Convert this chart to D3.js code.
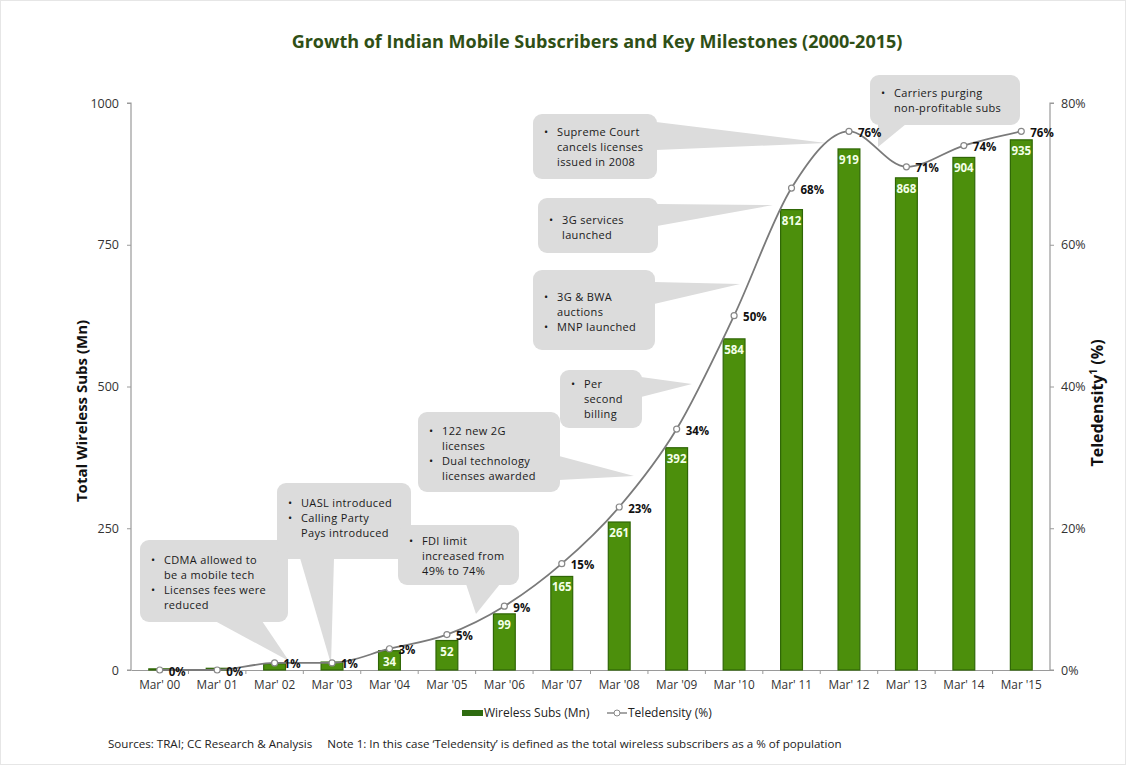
<!DOCTYPE html>
<html>
<head>
<meta charset="utf-8">
<script src="https://cdn.jsdelivr.net/npm/d3@7"></script>
<style>
  html, body { margin: 0; padding: 0; background: #fff; }
  svg { display: block; font-family: "Open Sans", "DejaVu Sans", sans-serif; }
</style>
</head>
<body>
<svg id="chart" width="1126" height="765"></svg>
<script>
// ---- data -------------------------------------------------------------
const years = ["Mar' 00", "Mar' 01", "Mar' 02", "Mar '03", "Mar '04", "Mar '05", "Mar '06", "Mar '07",
               "Mar '08", "Mar '09", "Mar '10", "Mar' 11", "Mar' 12", "Mar' 13", "Mar' 14", "Mar '15"];
const wirelessSubs = [2, 3, 11, 14, 34, 52, 99, 165, 261, 392, 584, 812, 919, 868, 904, 935];
const teledensity  = [0, 0, 1, 1, 3, 5, 9, 15, 23, 34, 50, 68, 76, 71, 74, 76];
const subsTicks = [0, 250, 500, 750, 1000];
const densityTicks = [0, 20, 40, 60, 80];
const minBarLabel = 30;   // bars below this are too short to hold a label

const milestones = [
  ["CDMA allowed to|be a mobile tech", "Licenses fees were|reduced"],
  ["UASL introduced", "Calling Party|Pays introduced"],
  ["FDI limit|increased from|49% to 74%"],
  ["122 new 2G|licenses", "Dual technology|licenses awarded"],
  ["Per|second|billing"],
  ["3G & BWA|auctions", "MNP launched"],
  ["3G services|launched"],
  ["Supreme Court|cancels licenses|issued in 2008"],
  ["Carriers purging|non-profitable subs"]
];

// ---- callout layout (box, first text line, pointer triangle) -------------
const calloutLayout = [
  { box: [140, 540, 148, 82], y0: 560, ptr: [[215, 621], [262, 621], [289, 661]] },
  { box: [277, 483, 134, 76], y0: 503, ptr: [[300, 558], [334, 558], [331, 664]] },
  { box: [398, 525, 121, 60], y0: 541, ptr: [[466, 584], [500, 584], [476, 614]] },
  { box: [418, 412, 142, 80], y0: 431, ptr: [[559, 456], [559, 480], [634, 476]] },
  { box: [560, 370, 82, 58],  y0: 384, ptr: [[641, 377], [641, 397], [692, 384]] },
  { box: [533, 270, 122, 80], y0: 297, ptr: [[654, 282], [654, 304], [740, 284]] },
  { box: [538, 198, 120, 55], y0: 220, ptr: [[657, 204], [657, 226], [773, 205]] },
  { box: [533, 114, 124, 65], y0: 132, ptr: [[656, 122], [656, 150], [826, 143]] },
  { box: [870, 75, 150, 50],  y0: 93,  ptr: [[878, 124], [906, 124], [878, 147]] }
];

// ---- layout -----------------------------------------------------------
const svg = d3.select("#chart");
const W = 1126, H = 765;
const plot = { left: 131, right: 1050, top: 103, bottom: 670 };

// faint frame round the whole figure
svg.append("rect").attr("x", 0.5).attr("y", 0.5).attr("width", W - 1).attr("height", H - 1)
  .attr("fill", "#fff").attr("stroke", "#e6e6e6");

const x = d3.scaleBand().domain(years).range([plot.left, plot.right]).paddingInner(0.62).paddingOuter(0.31);
const yL = d3.scaleLinear().domain([0, 1000]).range([plot.bottom, plot.top]);
const yR = d3.scaleLinear().domain([0, 80]).range([plot.bottom, plot.top]);

// title
svg.append("text").attr("x", 597).attr("y", 48).attr("text-anchor", "middle")
  .attr("font-size", 18).attr("font-weight", "bold").attr("fill", "#2f4f16")
  .text("Growth of Indian Mobile Subscribers and Key Milestones (2000-2015)");

// axes
const axisColor = "#9a9a9a";
const leftAxis = svg.append("g").attr("transform", `translate(${plot.left},0)`)
  .call(d3.axisLeft(yL).tickValues(subsTicks).tickSize(4).tickPadding(8).tickFormat(d3.format("d")));
const rightAxis = svg.append("g").attr("transform", `translate(${plot.right},0)`)
  .call(d3.axisRight(yR).tickValues(densityTicks).tickSize(4).tickPadding(7).tickFormat(d => d + "%"));
const bottomAxis = svg.append("g").attr("transform", `translate(0,${plot.bottom})`)
  .call(d3.axisBottom(x).tickSize(0).tickPadding(11));

[leftAxis, rightAxis, bottomAxis].forEach(g => {
  g.selectAll("path.domain").attr("stroke", axisColor).attr("stroke-width", 1.2);
  g.selectAll(".tick line").attr("stroke", axisColor);
  g.selectAll(".tick text").attr("fill", "#333").attr("font-size", 12.5)
    .attr("font-family", "\"Open Sans\", sans-serif");
});
bottomAxis.selectAll(".tick text").attr("font-size", 11.8);
leftAxis.select("path.domain").attr("d", `M-4,${plot.top}H0V${plot.bottom}H-4`);
rightAxis.select("path.domain").attr("d", `M4,${plot.top}H0V${plot.bottom}H4`);

// small separators below the category axis
svg.append("g").selectAll("line").data(years.slice(1)).join("line")
  .attr("x1", d => x(d) - x.step() * x.paddingInner() / 2)
  .attr("x2", d => x(d) - x.step() * x.paddingInner() / 2)
  .attr("y1", plot.bottom).attr("y2", plot.bottom + 4)
  .attr("stroke", axisColor);

// axis titles
svg.append("text").attr("transform", "translate(87,411) rotate(-90)")
  .attr("text-anchor", "middle").attr("font-size", 15).attr("font-weight", "bold").attr("fill", "#111")
  .text("Total Wireless Subs (Mn)");
const rt = svg.append("text").attr("transform", "translate(1103,403) rotate(-90)")
  .attr("text-anchor", "middle").attr("font-size", 16).attr("font-weight", "bold").attr("fill", "#111");
rt.append("tspan").text("Teledensity");
rt.append("tspan").attr("font-size", 10).attr("dy", -6).text("1");
rt.append("tspan").attr("dy", 6).text(" (%)");

// bars
const barFill = "#4c8f0c", barStroke = "#2f6606";
svg.append("g").selectAll("rect").data(wirelessSubs).join("rect")
  .attr("x", (d, i) => x(years[i]))
  .attr("y", d => yL(d))
  .attr("width", x.bandwidth())
  .attr("height", d => yL(0) - yL(d))
  .attr("fill", barFill).attr("stroke", barStroke).attr("stroke-width", 1.2);

svg.append("g").selectAll("text")
  .data(wirelessSubs.map((v, i) => ({ v, year: years[i] })).filter(d => d.v >= minBarLabel))
  .join("text")
  .attr("x", d => x(d.year) + x.bandwidth() / 2)
  .attr("y", d => yL(d.v) + 15)
  .attr("text-anchor", "middle").attr("font-size", 11.5).attr("font-weight", "bold")
  .attr("fill", "#f4ffe8").text(d => d.v);

// callouts: rounded box with a pointer, bulleted lines inside
const calloutFill = "#dcdcdc";
const lineGap = 15;
const cg = svg.append("g");
milestones.forEach((items, i) => {
  const L = calloutLayout[i];
  const [bx, by, bw, bh] = L.box;
  cg.append("path").attr("d", "M" + L.ptr.map(p => p.join(",")).join("L") + "Z").attr("fill", calloutFill);
  cg.append("rect").attr("x", bx).attr("y", by).attr("width", bw).attr("height", bh)
    .attr("rx", 9).attr("fill", calloutFill);
  let yy = L.y0;
  items.forEach(item => {
    item.split("|").forEach((line, j) => {
      const t = cg.append("text").attr("y", yy).attr("dy", "0.35em")
        .attr("font-size", 11).attr("letter-spacing", 0.35).attr("fill", "#1a1a1a");
      if (j === 0) t.append("tspan").attr("x", bx + 11).text("•");
      t.append("tspan").attr("x", bx + 24).text(line);
      yy += lineGap;
    });
  });
});

// teledensity line
const cx = i => x(years[i]) + x.bandwidth() / 2;
const line = d3.line().x((d, i) => cx(i)).y(d => yR(d)).curve(d3.curveMonotoneX);
svg.append("path").datum(teledensity).attr("d", line)
  .attr("fill", "none").attr("stroke", "#7a7a7a").attr("stroke-width", 1.8);
svg.append("g").selectAll("circle").data(teledensity).join("circle")
  .attr("cx", (d, i) => cx(i)).attr("cy", d => yR(d)).attr("r", 3)
  .attr("fill", "#fff").attr("stroke", "#888").attr("stroke-width", 1.2);
svg.append("g").selectAll("text").data(teledensity).join("text")
  .attr("x", (d, i) => cx(i) + 9).attr("y", d => yR(d) + 1.5).attr("dy", "0.35em")
  .attr("font-size", 11.5).attr("font-weight", "bold").attr("fill", "#111")
  .text(d => d + "%");

// legend
const lg = svg.append("g").attr("transform", "translate(0,713)");
lg.append("rect").attr("x", 462).attr("y", -3).attr("width", 21).attr("height", 6).attr("fill", "#2e6b10");
lg.append("text").attr("x", 484).attr("y", 0).attr("dy", "0.35em").attr("font-size", 12).attr("fill", "#222")
  .text("Wireless Subs (Mn)");
lg.append("line").attr("x1", 607).attr("x2", 627).attr("y1", 0).attr("y2", 0).attr("stroke", "#888").attr("stroke-width", 1.5);
lg.append("circle").attr("cx", 617).attr("cy", 0).attr("r", 3).attr("fill", "#fff").attr("stroke", "#888");
lg.append("text").attr("x", 628).attr("y", 0).attr("dy", "0.35em").attr("font-size", 12).attr("fill", "#222")
  .text("Teledensity (%)");

// source note
svg.append("text").attr("x", 108).attr("y", 744).attr("dy", "0.35em").attr("font-size", 11.6).attr("fill", "#222")
  .attr("xml:space", "preserve")
  .text("Sources: TRAI; CC Research & Analysis     Note 1: In this case \u2018Teledensity\u2019 is defined as the total wireless subscribers as a % of population");
</script>
</body>
</html>
